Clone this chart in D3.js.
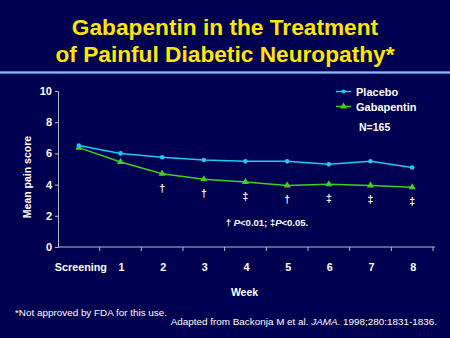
<!DOCTYPE html>
<html>
<head>
<meta charset="utf-8">
<script src="https://cdn.jsdelivr.net/npm/d3@7"></script>
<style>
  html, body { margin: 0; padding: 0; background: #000050; }
  svg { display: block; font-family: Arial, "Liberation Sans", sans-serif; }
</style>
</head>
<body>
<div id="chart"></div>
<script>
const weeks = ['Screening', '1', '2', '3', '4', '5', '6', '7', '8'];
const placebo = [6.5, 6.0, 5.75, 5.58, 5.49, 5.49, 5.3, 5.5, 5.1];
const gabapentin = [6.37, 5.45, 4.7, 4.34, 4.17, 3.95, 4.02, 3.95, 3.83];
const significance = ['', '', '\u2020', '\u2020', '\u2021', '\u2020', '\u2021', '\u2021', '\u2021'];
const yTicks = [0, 2, 4, 6, 8, 10];

const canvasWidth = 450;
const canvasHeight = 338;
const margins = { top: 91, right: 17, bottom: 91, left: 58 };
const width = canvasWidth - margins.left - margins.right;
const height = canvasHeight - margins.top - margins.bottom;

const svg = d3.select('#chart')
  .append('svg')
  .attr('width', canvasWidth)
  .attr('height', canvasHeight)
  .attr('viewBox', `0 0 ${canvasWidth} ${canvasHeight}`);

svg.append('rect')
  .attr('width', canvasWidth)
  .attr('height', canvasHeight)
  .attr('fill', '#000050');

// title
const title = svg.append('text')
  .attr('text-anchor', 'middle')
  .attr('fill', '#ffe600')
  .attr('font-weight', 'bold')
  .attr('font-size', 22.7);
title.append('tspan').attr('x', 225).attr('y', 35).text('Gabapentin in the Treatment');
title.append('tspan').attr('x', 225).attr('y', 62).text('of Painful Diabetic Neuropathy*');

// separator line
svg.append('rect')
  .attr('x', 0).attr('y', 71)
  .attr('width', canvasWidth).attr('height', 3)
  .attr('fill', '#4f7fd0');
svg.append('rect')
  .attr('x', 0).attr('y', 72)
  .attr('width', canvasWidth).attr('height', 1)
  .attr('fill', '#8fb8f4');

const scaleX = d3.scaleBand()
  .domain(weeks)
  .range([0, width]);
const scaleY = d3.scaleLinear()
  .domain([0, 10])
  .range([height, 0]);

const chart = svg.append('g')
  .attr('transform', `translate(${margins.left}, ${margins.top})`);

// x axis: ticks at band edges
const axisX = chart.append('g')
  .attr('transform', `translate(0, ${height})`);
axisX.append('line')
  .attr('x1', 0).attr('x2', width + 2)
  .attr('stroke', '#b8b8d0').attr('stroke-width', 1);
axisX.selectAll('.tick')
  .data(weeks)
  .enter()
  .append('line')
    .attr('x1', d => scaleX(d) + scaleX.bandwidth())
    .attr('x2', d => scaleX(d) + scaleX.bandwidth())
    .attr('y1', 0).attr('y2', 4)
    .attr('stroke', '#b8b8d0');
axisX.selectAll('.label')
  .data(weeks)
  .enter()
  .append('text')
    .attr('x', d => scaleX(d) + scaleX.bandwidth() / 2 + (d === 'Screening' ? 2 : 1))
    .attr('y', 24)
    .attr('text-anchor', 'middle')
    .attr('fill', '#fff')
    .attr('font-weight', 'bold')
    .attr('font-size', 10.8)
    .text(d => d);

// y axis
const axisY = d3.axisLeft(scaleY)
  .tickValues(yTicks)
  .tickSize(3)
  .tickPadding(3);
chart.append('g')
  .call(axisY)
  .call(g => g.select('.domain').attr('stroke', '#b8b8d0'))
  .call(g => g.selectAll('.tick line').attr('stroke', '#b8b8d0'))
  .call(g => g.selectAll('.tick text')
    .attr('fill', '#fff')
    .attr('font-weight', 'bold')
    .attr('font-size', 11)
    .attr('font-family', 'Arial, "Liberation Sans", sans-serif'));

// axis titles
chart.append('text')
  .attr('transform', `translate(${-27}, ${height / 2 + 8}) rotate(-90)`)
  .attr('text-anchor', 'middle')
  .attr('fill', '#fff')
  .attr('font-weight', 'bold')
  .attr('font-size', 10.5)
  .text('Mean pain score');
chart.append('text')
  .attr('x', width / 2 - 1)
  .attr('y', height + 49)
  .attr('text-anchor', 'middle')
  .attr('fill', '#fff')
  .attr('font-weight', 'bold')
  .attr('font-size', 10.5)
  .text('Week');

const cx = d => scaleX(d) + scaleX.bandwidth() / 2;
const line = d3.line()
  .x((d, i) => cx(weeks[i]))
  .y(d => scaleY(d));

const placeboColor = '#1ecbf2';
const gabaColor = '#3fd022';

// lines
chart.append('path')
  .datum(gabapentin)
  .attr('d', line)
  .attr('fill', 'none')
  .attr('stroke', gabaColor)
  .attr('stroke-width', 1.5);
chart.append('path')
  .datum(placebo)
  .attr('d', line)
  .attr('fill', 'none')
  .attr('stroke', placeboColor)
  .attr('stroke-width', 1.5);

// markers
const triangle = d3.symbol().type(d3.symbolTriangle).size(22);
chart.selectAll('.gaba-pt')
  .data(gabapentin)
  .enter()
  .append('path')
    .attr('d', triangle)
    .attr('transform', (d, i) => `translate(${cx(weeks[i])}, ${scaleY(d)})`)
    .attr('fill', gabaColor);
chart.selectAll('.placebo-pt')
  .data(placebo)
  .enter()
  .append('circle')
    .attr('cx', (d, i) => cx(weeks[i]))
    .attr('cy', d => scaleY(d))
    .attr('r', 2.3)
    .attr('fill', placeboColor);

// significance marks
chart.selectAll('.sig')
  .data(gabapentin)
  .enter()
  .append('text')
    .attr('x', (d, i) => cx(weeks[i]))
    .attr('y', d => scaleY(d) + 18)
    .attr('text-anchor', 'middle')
    .attr('fill', '#fff')
    .attr('font-weight', 'bold')
    .attr('font-size', 10.5)
    .text((d, i) => significance[i]);

const note = chart.append('text')
  .attr('x', 209)
  .attr('y', 135)
  .attr('text-anchor', 'middle')
  .attr('fill', '#fff')
  .attr('font-weight', 'bold')
  .attr('font-size', 9.5);
note.append('tspan').text('\u2020 ');
note.append('tspan').attr('font-style', 'italic').text('P');
note.append('tspan').text('<0.01; \u2021');
note.append('tspan').attr('font-style', 'italic').text('P');
note.append('tspan').text('<0.05.');

// legend
const legend = chart.append('g')
  .attr('transform', 'translate(278, 0)');
const series = [
  { name: 'Placebo', color: placeboColor, marker: 'circle' },
  { name: 'Gabapentin', color: gabaColor, marker: 'triangle' },
];
series.forEach((s, i) => {
  const g = legend.append('g').attr('transform', `translate(0, ${i * 15 + 0.5})`);
  g.append('line')
    .attr('x1', 0).attr('x2', 15)
    .attr('stroke', s.color).attr('stroke-width', 1.5);
  if (s.marker === 'circle') {
    g.append('circle').attr('cx', 7.5).attr('r', 2).attr('fill', s.color);
  } else {
    g.append('path').attr('d', triangle).attr('transform', 'translate(7.5, 0)').attr('fill', s.color);
  }
  g.append('text')
    .attr('x', 20)
    .attr('y', 4)
    .attr('fill', '#fff')
    .attr('font-weight', 'bold')
    .attr('font-size', 11)
    .text(s.name);
});
legend.append('text')
  .attr('x', 23)
  .attr('y', 40)
  .attr('fill', '#fff')
  .attr('font-weight', 'bold')
  .attr('font-size', 10.5)
  .text('N=165');

// footnotes
svg.append('text')
  .attr('x', 15)
  .attr('y', 316)
  .attr('fill', '#fff')
  .attr('font-size', 9.9)
  .text('*Not approved by FDA for this use.');
const source = svg.append('text')
  .attr('x', 437)
  .attr('y', 325)
  .attr('text-anchor', 'end')
  .attr('fill', '#fff')
  .attr('font-size', 9.9);
source.append('tspan').text('Adapted from Backonja M et al. ');
source.append('tspan').attr('font-style', 'italic').text('JAMA');
source.append('tspan').text('. 1998;280:1831-1836.');
</script>
</body>
</html>
